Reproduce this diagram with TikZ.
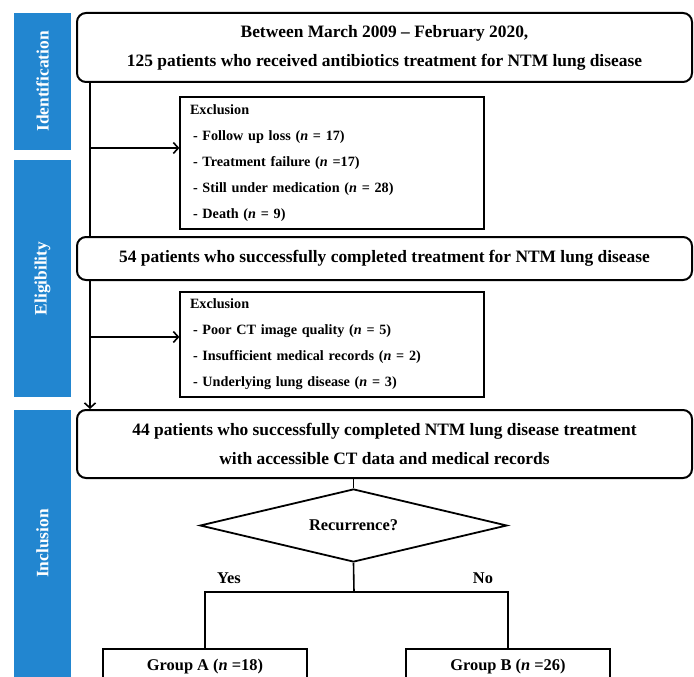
\documentclass[tikz,border=0pt]{standalone}
\usepackage{fontspec}
\setmainfont{Liberation Serif}
\usepackage{xcolor}
\usepackage{tikz}
\usetikzlibrary{positioning,arrows.meta,shapes.geometric}
\definecolor{sideblue}{RGB}{34,134,208}

\begin{document}
\begin{tikzpicture}[x=1pt,y=-1pt,
        side/.style={rectangle,fill=sideblue,text=white,rotate=90,minimum height=57pt,inner sep=0pt,font=\fontsize{17.4}{20}\selectfont\bfseries},
        stage/.style={rectangle,draw,rounded corners=9pt,line width=2pt,fill=white,align=center,minimum width=615pt,font=\fontsize{17.4}{29}\selectfont\bfseries},
        excl/.style={rectangle,draw,line width=1.2pt,fill=white,align=left,text width=284pt,inner xsep=10pt,font=\fontsize{14.2}{26}\selectfont\bfseries},
        grp/.style={rectangle,draw,line width=1.6pt,anchor=north,minimum width=204pt,inner ysep=5pt,text height=17pt,text depth=30pt,font=\fontsize{16.4}{20}\selectfont\bfseries},
        lbl/.style={font=\fontsize{16.4}{20}\selectfont\bfseries},
        line/.style={line width=1.6pt},
        arrow/.style={-{Straight Barb[length=5pt,width=11pt]},line width=1.6pt}]
        \useasboundingbox (0,0) rectangle (694,677);
        \clip (0,0) rectangle (694,677);
        \node[side,minimum width=137pt] (sid) at (42.5,81.5) {Identification};
        \node[side,minimum width=237pt] (sel) at (42.5,278.5) {Eligibility};
        \node[side,minimum width=267pt] (sin) at (42.5,543.5) {Inclusion};
        \node[stage,minimum height=69pt] (start) at (384.5,47.5) {Between March 2009 -- February 2020,\\125 patients who received antibiotics treatment for NTM lung disease};
        \node[excl,minimum height=132pt] (ex1) at (332,163) {Exclusion\\
            \hspace{3pt}- Follow up loss (\textit{n} = 17)\\
            \hspace{3pt}- Treatment failure (\textit{n} =17)\\
            \hspace{3pt}- Still under medication (\textit{n} = 28)\\
            \hspace{3pt}- Death (\textit{n} = 9)};
        \node[stage,minimum height=43pt] (done) at (384.5,258.5) {54 patients who successfully completed treatment for NTM lung disease};
        \node[excl,minimum height=105pt] (ex2) at (332,344.5) {Exclusion\\
            \hspace{3pt}- Poor CT image quality (\textit{n} = 5)\\
            \hspace{3pt}- Insufficient medical records (\textit{n} = 2)\\
            \hspace{3pt}- Underlying lung disease (\textit{n} = 3)};
        \node[stage,minimum height=68pt] (final) at (384.5,444) {44 patients who successfully completed NTM lung disease treatment\\with accessible CT data and medical records};
        \node[diamond,draw,line width=1.8pt,minimum width=307pt,minimum height=73pt,aspect=4.2,inner sep=0pt,lbl] (rec) at (353.5,525.5) {Recurrence?};
        \node[lbl] (yes) at (229,578) {Yes};
        \node[lbl] (no) at (483,578) {No};
        \node[grp] (grpA) at (205,648) {Group A (\textit{n} =18)};
        \node[grp] (grpB) at (508,648) {Group B (\textit{n} =26)};
        \coordinate (trunk) at (90,0);
        \coordinate (split) at (354,592);
        \draw[line] (start.south -| trunk) -- (done.north -| trunk);
        \draw[arrow] (done.south -| trunk) -- (final.north -| trunk);
        \draw[arrow] ([yshift=15pt]ex1.west -| trunk) -- ([yshift=15pt]ex1.west);
        \draw[arrow] ([yshift=7.5pt]ex2.west -| trunk) -- ([yshift=7.5pt]ex2.west);
        \draw[line] (final.south -| rec.north) -- (rec.north);
        \draw[line] (rec.south) -- (split);
        \draw[line] (grpA.north) |- (split) -| (grpB.north);
    \end{tikzpicture}
\end{document}
